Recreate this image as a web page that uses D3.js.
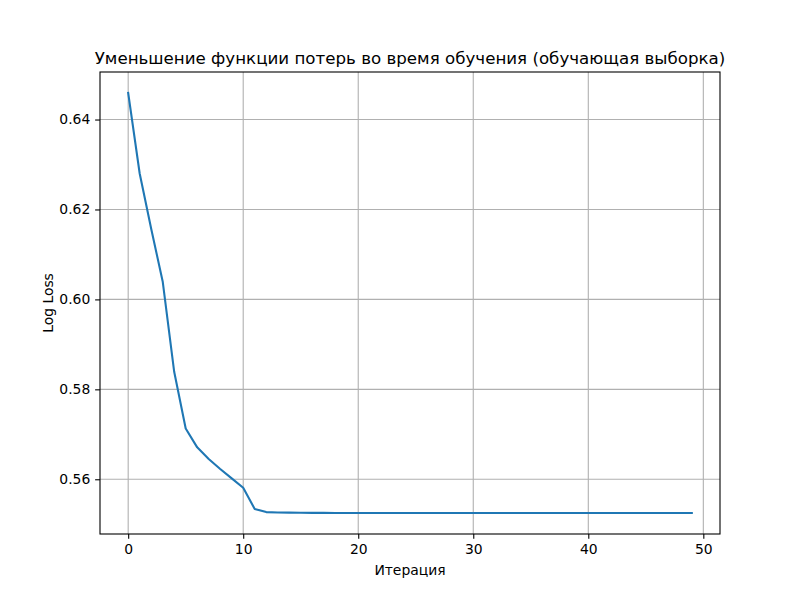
<!DOCTYPE html>
<html><head><meta charset="utf-8">
<script src="https://cdn.jsdelivr.net/npm/d3@7"></script>
<style>body{margin:0;background:#fff}svg{display:block;font-family:"DejaVu Sans",sans-serif}</style>
</head><body>
<script>
const iterations = d3.range(0, 50);
const lossValues = [
  0.6459, 0.6280, 0.6157, 0.6040, 0.5839, 0.5713, 0.5671, 0.5645, 0.5623, 0.5602,
  0.5581, 0.5534, 0.55270, 0.55262, 0.55258, 0.55255, 0.55253, 0.55252, 0.55251, 0.55250,
  0.55250, 0.55250, 0.55250, 0.55250, 0.55250, 0.55250, 0.55250, 0.55250, 0.55250, 0.55250,
  0.55250, 0.55250, 0.55250, 0.55250, 0.55250, 0.55250, 0.55250, 0.55250, 0.55250, 0.55250,
  0.55250, 0.55250, 0.55250, 0.55250, 0.55250, 0.55250, 0.55250, 0.55250, 0.55250, 0.55250
];
const xTicks = [0, 10, 20, 30, 40, 50];
const yTicks = [0.56, 0.58, 0.60, 0.62, 0.64];
const titleText = "Уменьшение функции потерь во время обучения (обучающая выборка)";
const xLabel = "Итерация";
const yLabel = "Log Loss";

const W = 800, H = 600;
const L = 100, R = 720, T = 72, B = 534;
const svg = d3.select("body").append("svg").attr("width", W).attr("height", H);

const xMin = d3.min(iterations), xMax = d3.max(iterations);
const xPad = (xMax - xMin) * 0.05;
const yMin = d3.min(lossValues), yMax = d3.max(lossValues);
const yPad = (yMax - yMin) * 0.05;
const x = d3.scaleLinear().domain([xMin - xPad, xMax + xPad]).range([L, R]);
const y = d3.scaleLinear().domain([yMin - yPad, yMax + yPad]).range([B, T]);

// grid
const grid = svg.append("g");
grid.selectAll(".gx").data(xTicks.filter(t => x(t) >= L && x(t) <= R)).enter().append("line")
  .attr("x1", d => x(d)).attr("x2", d => x(d)).attr("y1", T).attr("y2", B)
  .attr("stroke", "#b0b0b0").attr("stroke-width", 1.1);
grid.selectAll(".gy").data(yTicks).enter().append("line")
  .attr("y1", d => y(d)).attr("y2", d => y(d)).attr("x1", L).attr("x2", R)
  .attr("stroke", "#b0b0b0").attr("stroke-width", 1.1);

// line
const line = d3.line().x((d, i) => x(iterations[i])).y(d => y(d));
svg.append("path").datum(lossValues).attr("d", line)
  .attr("fill", "none").attr("stroke", "#1f77b4").attr("stroke-width", 2.08)
  .attr("stroke-linejoin", "round").attr("stroke-linecap", "square");

// axes
const xAxis = d3.axisBottom(x).tickValues(xTicks).tickSizeInner(4.86).tickSizeOuter(0).tickPadding(4.9).tickFormat(d3.format("d"));
const gx = svg.append("g").attr("transform", `translate(0,${B})`).call(xAxis);
const yAxis = d3.axisLeft(y).tickValues(yTicks).tickSizeInner(4.86).tickSizeOuter(0).tickPadding(4.9).tickFormat(d3.format(".2f"));
const gy = svg.append("g").attr("transform", `translate(${L},0)`).call(yAxis);
[gx, gy].forEach(g => {
  g.select(".domain").remove();
  g.selectAll(".tick line").attr("stroke", "#000").attr("stroke-width", 1.1);
  g.selectAll(".tick text").attr("fill", "#000").style("font-size", "13.9px").style("font-family", "DejaVu Sans");
});

// spines
svg.append("rect").attr("x", L).attr("y", T).attr("width", R - L).attr("height", B - T)
  .attr("fill", "none").attr("stroke", "#000").attr("stroke-width", 1.1);

// labels
svg.append("text").attr("x", (L + R) / 2).attr("y", 64).attr("text-anchor", "middle")
  .style("font-size", "16.67px").attr("fill", "#000").text(titleText);
svg.append("text").attr("x", (L + R) / 2).attr("y", 575).attr("text-anchor", "middle")
  .style("font-size", "13.9px").attr("fill", "#000").text(xLabel);
svg.append("text").attr("transform", `translate(52.8,${(T + B) / 2}) rotate(-90)`).attr("text-anchor", "middle")
  .style("font-size", "13.9px").attr("fill", "#000").text(yLabel);
</script>
</body></html>
